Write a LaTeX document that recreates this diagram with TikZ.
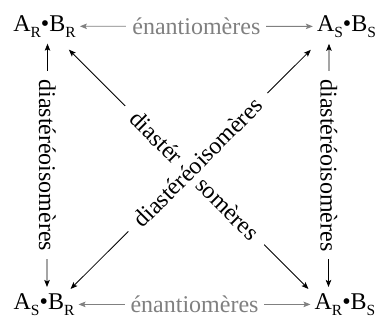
\documentclass[tikz,border=0pt]{standalone}
\usepackage{fontspec}
\setmainfont{Liberation Serif}
\usetikzlibrary{arrows.meta}
\definecolor{enan}{RGB}{128,128,128}
\newcommand\molsub[1]{\raisebox{-0.27em}{\fontsize{15.5bp}{15.5bp}\selectfont #1}}
\begin{document}
\begin{tikzpicture}[x=1bp,y=1bp,
  every node/.style={font=\fontsize{24bp}{28bp}\selectfont},
  mol/.style={inner sep=0pt, anchor=base},
  arr/.style={line width=0.8bp, {Stealth[length=7bp,width=5.5bp,inset=1.5bp]}-{Stealth[length=7bp,width=5.5bp,inset=1.5bp]}},
  grayarr/.style={arr, draw=enan},
  hlab/.style={fill=white, inner xsep=6bp, inner ysep=3bp},
  vlab/.style={fill=white, inner xsep=8bp, inner ysep=3bp, rotate=-90},
  dlab/.style={fill=white, inner xsep=12bp, inner ysep=7bp},
]
\useasboundingbox (0,0) rectangle (379,320);
\node[mol] (TL) at (44.5,289) {A\molsub{R}•B\molsub{R}};
\node[mol] (TR) at (346.5,289) {A\molsub{S}•B\molsub{S}};
\node[mol] (BL) at (44,11) {A\molsub{S}•B\molsub{R}};
\node[mol] (BR) at (345,11) {A\molsub{R}•B\molsub{S}};
% enantiomers
\draw[grayarr, shorten <=4bp, shorten >=4bp] (TL.east) -- (TR.west)
  node[midway, hlab, text=enan] (e1) {énantiomères};
\draw[grayarr, shorten <=4bp, shorten >=4bp] (BL.east) -- (BR.west)
  node[midway, hlab, text=enan] (e2) {énantiomères};
% vertical diastereoisomers
\draw[arr] ([xshift=3bp,yshift=-6bp]TL.south) -- ([xshift=3bp,yshift=6bp]BL.north)
  node[midway, vlab] (v1) {diastéréoisomères};
\draw[arr] ([xshift=-17.5bp,yshift=-6bp]TR.south) -- ([xshift=-16.5bp,yshift=6bp]BR.north)
  node[midway, vlab] (v2) {diastéréoisomères};
% diagonals
\draw[arr] ([shift={(-7bp,-12bp)}]TL.south east) -- ([shift={(-6bp,4bp)}]BR.north west)
  node[pos=0.525, dlab, rotate=-45] (d1) {diastéréoisomères};
\draw[arr] ([shift={(-4bp,4bp)}]BL.north east) -- ([shift={(-6bp,-12bp)}]TR.south west)
  node[pos=0.53, dlab, rotate=45] (d2) {diastéréoisomères};
\end{tikzpicture}
\end{document}
